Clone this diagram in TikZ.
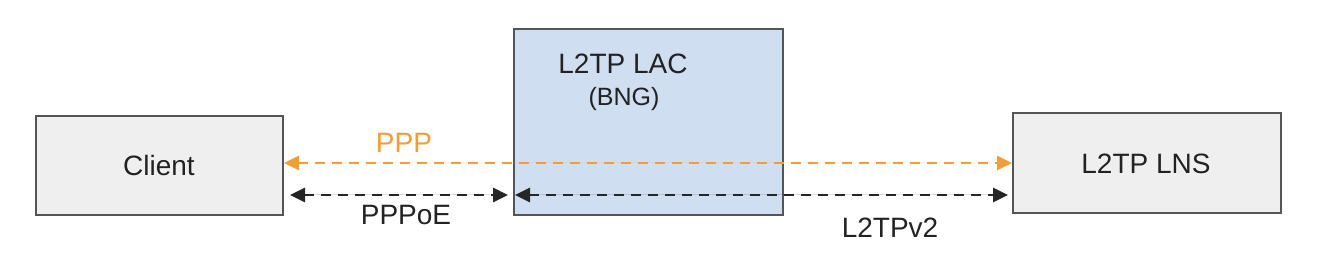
\documentclass[tikz,border=0pt]{standalone}
\usepackage{fontspec}
\setmainfont{Liberation Sans}
\usetikzlibrary{arrows.meta}
\definecolor{boxgray}{HTML}{EFEFEF}
\definecolor{boxblue}{HTML}{CFDEF0}
\definecolor{edge}{HTML}{555555}
\definecolor{ppporange}{HTML}{F29E38}
\definecolor{txt}{HTML}{222222}
\begin{document}
\begin{tikzpicture}[x=0.5pt,y=-0.5pt,
  box/.style={draw=edge, line width=1pt, inner sep=0pt},
  lbl/.style={font=\fontsize{14}{16}\selectfont, text=txt},
  conn/.style={dash pattern=on 5pt off 3.5pt, line width=1.4pt, {Triangle[length=7.5pt,width=7pt]}-{Triangle[length=7.5pt,width=7pt]}}]
\useasboundingbox (0,0) rectangle (1330,276);
\node[box, fill=boxgray, minimum width=123.5pt, minimum height=49.5pt, anchor=north west] (client) at (35,115) {};
\node[lbl] (clientt) at (159,165) {Client};
\node[box, fill=boxblue, minimum width=134.5pt, minimum height=93pt, anchor=north west] (lac) at (513,28) {};
\node[lbl] (lact) at (623,64) {L2TP LAC};
\node[lbl, font=\fontsize{12.5}{14}\selectfont] (bng) at (624,99) {(BNG)};
\node[box, fill=boxgray, minimum width=134pt, minimum height=50pt, anchor=north west] (lns) at (1012,112) {};
\node[lbl] (lnst) at (1146,164) {L2TP LNS};
\coordinate (pL) at (client.east |- 0,163);
\coordinate (pR) at (lns.west |- 0,163);
\draw[conn, draw=ppporange, fill=ppporange] (pL) -- (pR);
\node[lbl, text=ppporange] (ppp) at (404,143) {PPP};
\coordinate (aL) at (290,195);
\coordinate (aR) at (508,195);
\draw[conn, draw=black!85, fill=black] (aL) -- (aR);
\node[lbl] (pppoe) at (406,215) {PPPoE};
\coordinate (bL) at (515,195);
\coordinate (bR) at (1008,195);
\draw[conn, draw=black!85, fill=black] (bL) -- (bR);
\node[lbl] (l2tp) at (890,228) {L2TPv2};
\end{tikzpicture}
\end{document}
